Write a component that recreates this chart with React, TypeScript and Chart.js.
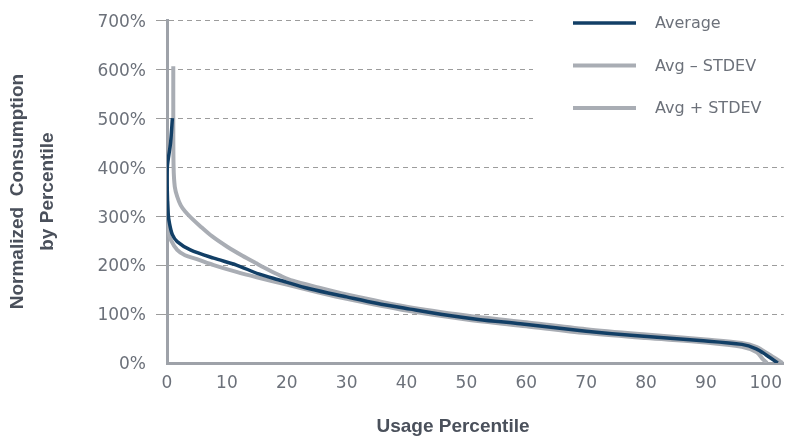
import React, { useEffect, useRef } from 'react';
import { Chart, registerables } from 'chart.js';

Chart.register(...registerables);

// ---- data (percentile, normalized consumption %) ----
const avgPct = [0.9, 0.6, 0.05, 0.05, 0.2, 0.4, 0.9, 1.7, 3.9, 7.8, 11.6, 15.3, 18.6, 24, 30, 35, 40.6, 46, 52, 59, 70, 78, 89, 96, 98.4, 100, 102];
const avgVal = [500, 450, 400, 350, 305, 286, 262, 248, 231, 214, 200, 182, 170, 151, 135, 122, 110, 99, 89, 80, 65, 56, 46, 38, 29, 17, 0];

const minusPct = [0.05, 0.1, 0.3, 0.7, 1.7, 3, 5, 7.8, 11.6, 15, 20, 25, 30, 40, 50, 60, 70, 80, 90, 96, 98.5, 99.5, 100.2];
const minusVal = [330, 295, 265, 250, 231, 220, 212, 200, 186, 175, 160, 145, 131, 107, 89, 75, 61, 51, 42, 33, 22, 8, 0];

const plusPct = [1.05, 1.05, 1.1, 1.3, 1.7, 2.3, 3.0, 4.0, 5.5, 7.5, 10, 12.6, 15, 17, 19, 21, 25, 30, 40, 50, 60, 70, 80, 90, 96, 98.4, 100.5, 102.8];
const plusVal = [606, 500, 400, 360, 340, 322, 310, 297, 280, 259, 238, 219, 203, 190, 178, 168, 155, 140, 115, 97, 83, 69, 58, 48, 41, 33, 18, 0];

const seriesNames = ['Average', 'Avg \u2013 STDEV', 'Avg + STDEV'];
const yTickValues = [0, 100, 200, 300, 400, 500, 600, 700];
const xTickStep = 10;
const xTitle = 'Usage Percentile';
const yTitle = ['Normalized  Consumption', 'by Percentile'];

const NAVY = '#123f66';
const GRAY_LINE = '#a9adb4';
const AXIS = '#9ea2a9';
const GRID = '#9c9c9c';
const TICK_TEXT = '#6c717a';
const TITLE_TEXT = '#4a505b';

const toPoints = (xs: number[], ys: number[]) => xs.map((x, i) => ({ x, y: ys[i] }));

const overlayPlugin = {
  id: 'overlayLegendTitle',
  afterDraw(chart: any) {
    const { ctx } = chart;
    ctx.save();
    // legend box (white, covers gridlines)
    ctx.fillStyle = '#ffffff';
    ctx.fillRect(533, 0, chart.width - 533, 135);
    chart.data.datasets.forEach((ds: any, i: number) => {
      const y = 23 + i * 42.5;
      ctx.strokeStyle = ds.borderColor;
      ctx.lineWidth = ds.borderWidth;
      ctx.setLineDash([]);
      ctx.beginPath();
      ctx.moveTo(573, y);
      ctx.lineTo(636, y);
      ctx.stroke();
      ctx.fillStyle = TICK_TEXT;
      ctx.font = '16px "DejaVu Sans"';
      ctx.textAlign = 'left';
      ctx.textBaseline = 'middle';
      ctx.fillText(ds.label, 655, y + 1);
    });
    // x axis title
    ctx.font = 'bold 19px "Liberation Sans"';
    ctx.fillStyle = TITLE_TEXT;
    ctx.textAlign = 'center';
    ctx.textBaseline = 'middle';
    ctx.fillText(xTitle, 453, 427);
    ctx.restore();
  },
};

export default function App() {
  const canvasRef = useRef<HTMLCanvasElement | null>(null);

  useEffect(() => {
    if (!canvasRef.current) return;
    Chart.defaults.font.family = '"DejaVu Sans"';
    const chart = new Chart(canvasRef.current, {
      type: 'line',
      data: {
        datasets: [
          {
            label: seriesNames[0],
            data: toPoints(avgPct, avgVal),
            borderColor: NAVY,
            borderWidth: 3.5,
            pointRadius: 0,
            tension: 0.3,
            fill: false,
          },
          {
            label: seriesNames[1],
            data: toPoints(minusPct, minusVal),
            borderColor: GRAY_LINE,
            borderWidth: 4,
            pointRadius: 0,
            tension: 0.3,
            fill: false,
          },
          {
            label: seriesNames[2],
            data: toPoints(plusPct, plusVal),
            borderColor: GRAY_LINE,
            borderWidth: 4,
            pointRadius: 0,
            tension: 0.3,
            fill: false,
          },
        ],
      },
      options: {
        responsive: false,
        animation: false,
        layout: { padding: { top: 14, right: 0, bottom: 0, left: 0 } },
        plugins: {
          legend: { display: false },
          tooltip: { enabled: false },
        },
        scales: {
          x: {
            type: 'linear',
            min: 0,
            max: 103,
            afterFit: (s: any) => {
              s.height = 74;
            },
            grid: { display: false, drawTicks: false },
            border: { display: true, color: AXIS, width: 3 },
            ticks: {
              stepSize: xTickStep,
              includeBounds: false,
              autoSkip: false,
              maxRotation: 0,
              color: TICK_TEXT,
              font: { family: '"DejaVu Sans"', size: 17 },
              padding: 10,
            },
          },
          y: {
            type: 'linear',
            min: 0,
            max: 700,
            afterFit: (s: any) => {
              s.width = 167;
            },
            afterBuildTicks: (s: any) => {
              s.ticks = yTickValues.map((v) => ({ value: v }));
            },
            grid: {
              color: (c: any) => (c.tick && c.tick.value === 0 ? 'rgba(0,0,0,0)' : GRID),
              lineWidth: 1,
              drawTicks: true,
              tickLength: 11,
            },
            border: { display: true, color: AXIS, width: 3, dash: [5, 4] },
            ticks: {
              callback: (v: any) => v + '%',
              color: TICK_TEXT,
              font: { family: '"DejaVu Sans"', size: 17 },
              padding: 10,
              labelOffset: 2,
            },
            title: {
              display: true,
              text: yTitle,
              color: TITLE_TEXT,
              font: { family: '"Liberation Sans"', size: 19, weight: 'bold', lineHeight: 30 / 19 },
              padding: { top: 3, bottom: 0 },
            },
          },
        },
      },
      plugins: [overlayPlugin],
    } as any);
    return () => chart.destroy();
  }, []);

  return (
    <div style={{ position: 'absolute', left: 0, top: 0, width: 792, height: 437, background: '#fff' }}>
      <canvas ref={canvasRef} width={792} height={437} />
    </div>
  );
}
